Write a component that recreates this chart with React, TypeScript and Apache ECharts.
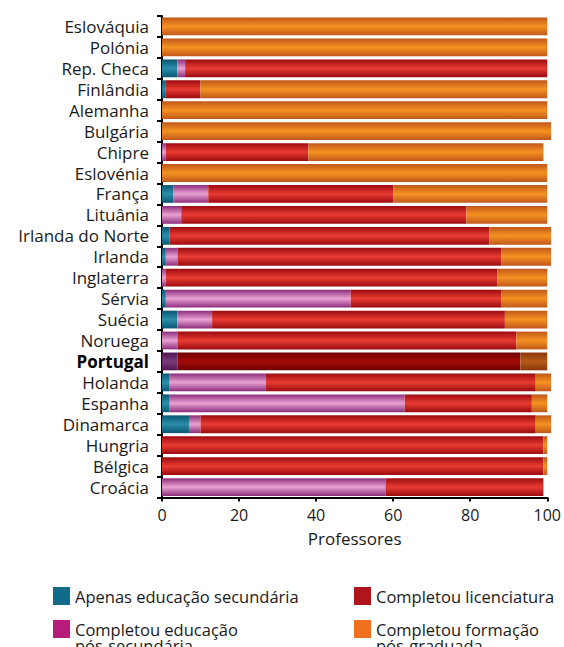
import React, { useEffect, useRef } from "react";
import * as echarts from "echarts";

const countries = [
  "Eslováquia", "Polónia", "Rep. Checa", "Finlândia", "Alemanha", "Bulgária",
  "Chipre", "Eslovénia", "França", "Lituânia", "Irlanda do Norte", "Irlanda",
  "Inglaterra", "Sérvia", "Suécia", "Noruega", "Portugal", "Holanda",
  "Espanha", "Dinamarca", "Hungria", "Bélgica", "Croácia",
];
const secundaria = [0, 0, 4, 1, 0, 0, 0, 0, 3, 0, 2, 1, 0, 1, 4, 0, 0, 2, 2, 7, 0, 0, 0];
const posSecundaria = [0, 0, 2, 0, 0, 0, 1, 0, 9, 5, 0, 3, 1, 48, 9, 4, 4, 25, 61, 3, 0, 0, 58];
const licenciatura = [0, 0, 94, 9, 0, 0, 37, 0, 48, 74, 83, 84, 86, 39, 76, 88, 89, 70, 33, 87, 99, 99, 41];
const posGraduada = [100, 100, 0, 90, 100, 101, 61, 100, 40, 21, 16, 13, 13, 12, 11, 8, 7, 4, 4, 4, 1, 1, 0];

const seriesNames = [
  "Apenas educação secundária",
  "Completou educação pós-secundária",
  "Completou licenciatura",
  "Completou formação pós-graduada",
];
const highlight = "Portugal";

const FONT = "'Open Sans', sans-serif";

const grad = (edge: string, mid: string) =>
  new echarts.graphic.LinearGradient(0, 0, 0, 1, [
    { offset: 0, color: edge },
    { offset: 0.5, color: mid },
    { offset: 1, color: edge },
  ]);

const palettes = [
  { legend: "#0f6b89", edge: "#0a5670", mid: "#2c8eaa", hEdge: "#073c4e", hMid: "#145a70" },
  { legend: "#b81c7a", edge: "#8c2c7c", mid: "#e9a2d2", hEdge: "#4e1650", hMid: "#7a3a7a" },
  { legend: "#b0141c", edge: "#9c0a10", mid: "#e83c32", hEdge: "#6e0000", hMid: "#a40a0a" },
  { legend: "#f07020", edge: "#c0581a", mid: "#f59222", hEdge: "#8a360a", hMid: "#b65a18" },
];

export default function App() {
  const ref = useRef<HTMLDivElement>(null);
  useEffect(() => {
    if (!ref.current) return;
    const chart = echarts.init(ref.current, undefined, { renderer: "svg" });
    const values = [secundaria, posSecundaria, licenciatura, posGraduada];
    const legendPos = [
      { left: 53, top: 587 },
      { left: 53, top: 620 },
      { left: 354, top: 587 },
      { left: 354, top: 620 },
    ];
    const firstLine = (n: string) =>
      n === seriesNames[1] ? "Completou educação" : n === seriesNames[3] ? "Completou formação" : n;

    chart.setOption({
      animation: false,
      textStyle: { fontFamily: FONT },
      grid: { left: 162, right: 14, top: 16, bottom: 149.5, containLabel: false },
      xAxis: {
        type: "value",
        min: 0,
        max: 100,
        interval: 20,
        splitLine: { show: false },
        axisLine: { show: true, lineStyle: { color: "#000", width: 2 } },
        axisTick: { show: true, length: 4, lineStyle: { color: "#000", width: 2 } },
        axisLabel: { fontSize: 16, color: "#1a1a1a", margin: 9, fontFamily: FONT },
        name: "Professores",
        nameLocation: "middle",
        nameGap: 32,
        nameTextStyle: { fontSize: 17, color: "#1a1a1a", fontFamily: FONT },
      },
      yAxis: {
        type: "category",
        inverse: true,
        data: countries,
        axisLine: { show: true, lineStyle: { color: "#000", width: 2 } },
        axisTick: { show: true, length: 5, lineStyle: { color: "#000", width: 2 } },
        axisLabel: {
          interval: 0,
          fontSize: 17,
          color: "#1a1a1a",
          margin: 13,
          fontFamily: FONT,
          formatter: (v: string) => (v === highlight ? `{b|${v}}` : v),
          rich: { b: { fontWeight: "bold", fontSize: 17, color: "#000", fontFamily: FONT } },
        },
      },
      legend: seriesNames.map((n, i) => ({
        data: [{ name: n, itemStyle: { color: palettes[i].legend } }],
        left: legendPos[i].left,
        top: legendPos[i].top,
        icon: "rect",
        itemWidth: 17,
        itemHeight: 18,
        padding: 0,
        selectedMode: false,
        formatter: firstLine,
        textStyle: { fontSize: 16.5, color: "#1a1a1a", fontFamily: FONT },
      })),
      graphic: [
        {
          type: "text",
          left: 75,
          top: 637,
          style: { text: "pós-secundária", fontSize: 16.5, fill: "#1a1a1a", fontFamily: FONT },
        },
        {
          type: "text",
          left: 376,
          top: 637,
          style: { text: "pós-graduada", fontSize: 16.5, fill: "#1a1a1a", fontFamily: FONT },
        },
      ],
      series: seriesNames.map((n, i) => ({
        name: n,
        type: "bar",
        stack: "total",
        barWidth: "85%",
        clip: false,
        itemStyle: { color: grad(palettes[i].edge, palettes[i].mid) },
        data: values[i].map((v, j) =>
          countries[j] === highlight
            ? { value: v, itemStyle: { color: grad(palettes[i].hEdge, palettes[i].hMid) } }
            : v
        ),
      })),
    });
    return () => chart.dispose();
  }, []);
  return (
    <div
      ref={ref}
      style={{ position: "fixed", left: 0, top: 0, width: 564, height: 647, background: "#fff" }}
    />
  );
}
